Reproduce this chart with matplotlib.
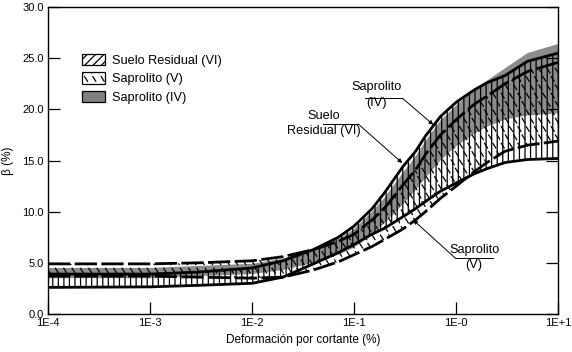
import warnings
import numpy as np
import matplotlib
matplotlib.use("Agg")
import matplotlib.pyplot as plt
import matplotlib.patches as mpatches
from matplotlib import hatch as mhatch
from matplotlib.path import Path

warnings.filterwarnings('ignore')
plt.rcParams['font.family'] = ['Liberation Sans', 'DejaVu Sans']
plt.rcParams['hatch.linewidth'] = 0.9


class DashHatch(mhatch.HatchPatternBase):
    # short backslash dashes, 'd' in the hatch string
    def __init__(self, hatch, density):
        self.n = int(hatch.count('d') * density)
        self.num_vertices = 2 * self.n * self.n

    def set_vertices_and_codes(self, vertices, codes):
        step = 1.0 / self.n
        k = 0
        for i in range(self.n):
            for j in range(self.n):
                x0 = (i + 0.15 + 0.5 * (j % 2)) * step
                y0 = (j + 0.8) * step
                vertices[k] = (x0, y0)
                vertices[k + 1] = (x0 + 0.35 * step, y0 - 0.55 * step)
                codes[k] = Path.MOVETO
                codes[k + 1] = Path.LINETO
                k += 2


mhatch._hatch_types.append(DashHatch)

# strain (%) positions where the bands were read
strain = [1e-4, 1e-3, 3e-3, 1e-2, 0.02, 0.04, 0.07, 0.1, 0.15, 0.2, 0.3, 0.4, 0.5,
          0.7, 1.0, 1.5, 2.0, 3.0, 5.0, 10.0]

# Suelo Residual (VI) - solid bounds
vi_upper = [3.9, 3.9, 4.1, 4.5, 5.2, 6.3, 7.5, 8.6, 10.3, 11.9, 14.4, 15.9, 17.4,
            19.3, 20.7, 21.9, 22.6, 23.3, 24.7, 25.5]
vi_lower = [2.6, 2.65, 2.8, 3.0, 3.6, 4.9, 6.0, 6.8, 7.8, 8.4, 9.5, 10.3, 11.0,
            12.0, 12.8, 13.7, 14.2, 14.8, 15.1, 15.2]

# Saprolito (V) - dashed bounds
v_upper = [4.9, 4.9, 5.0, 5.2, 5.6, 6.3, 7.1, 7.8, 9.2, 10.4, 12.6, 14.1, 15.6,
           17.5, 19.0, 20.5, 21.3, 22.5, 23.7, 24.6]
v_lower = [3.7, 3.7, 3.6, 3.5, 3.6, 4.3, 5.1, 5.8, 6.6, 7.3, 8.3, 9.2, 10.0,
           11.3, 12.5, 13.9, 14.8, 15.9, 16.5, 16.9]

# Saprolito (IV) - grey band
iv_upper = [4.5, 4.5, 4.7, 4.9, 5.4, 6.3, 7.3, 8.3, 10.0, 11.4, 13.8, 15.4, 16.9,
            18.9, 20.4, 21.9, 22.8, 24.0, 25.5, 26.4]
iv_lower = [3.5, 3.5, 3.7, 3.9, 4.3, 5.0, 5.8, 6.5, 7.8, 8.9, 10.7, 12.1, 13.3,
            15.0, 16.4, 17.6, 18.3, 19.0, 19.4, 19.6]

xticks = [1e-4, 1e-3, 1e-2, 1e-1, 1e0, 1e1]
xticklabels = ['1E-4', '1E-3', '1E-2', '1E-1', '1E-0', '1E+1']
yticks = [0, 5, 10, 15, 20, 25, 30]
legend_labels = ['Suelo Residual (VI)', 'Saprolito (V)', 'Saprolito (IV)']

fig = plt.figure(figsize=(5.72, 3.52), dpi=100)
ax = fig.add_axes([0.084, 0.108, 0.892, 0.872])

grey = '#8c8c8c'
ax.fill_between(strain, iv_lower, iv_upper, facecolor=grey, edgecolor='none', zorder=1)
ax.fill_between(strain, v_lower, v_upper, facecolor='none', edgecolor='k',
                hatch='dd', linewidth=0, zorder=2)
ax.fill_between(strain, vi_lower, vi_upper, facecolor='none', edgecolor='k',
                hatch='|||', linewidth=0, zorder=3)

for yy in (vi_upper, vi_lower):
    ax.plot(strain, yy, color='k', lw=2.0, solid_capstyle='butt', zorder=5)
for yy in (v_upper, v_lower):
    ax.plot(strain, yy, color='k', lw=2.0, dashes=(8, 1.6), zorder=5)

ax.set_xscale('log')
ax.set_xlim(1e-4, 1e1)
ax.set_ylim(0, 30)
ax.set_xticks(xticks)
ax.set_xticklabels(xticklabels)
ax.set_yticks(yticks)
ax.set_yticklabels(['%.1f' % v for v in yticks])
ax.minorticks_off()
ax.tick_params(axis='both', direction='in', length=8.5, width=0.9, labelsize=8, pad=3)
ax.tick_params(axis='y', right=True)
for s in ax.spines.values():
    s.set_linewidth(1.0)

ax.set_xlabel('Deformación por cortante (%)', fontsize=8.5, labelpad=4)
ax.set_ylabel('β (%)', fontsize=8.5, labelpad=6)

# labels with underline and leader
fs = 9.2
notes = [
    ('Suelo\nResidual (VI)', (10**-1.294, 18.6), (10**-1.304, 10**-0.961, 18.57), (10**-0.529, 14.76), 'right'),
    ('Saprolito\n(IV)', (10**-0.784, 21.4), (10**-0.892, 10**-0.529, 21.1), (10**-0.225, 18.5), 'right'),
    ('Saprolito\n(V)', (10**0.177, 5.5), (10**-0.01, 10**0.363, 5.47), (10**-0.422, 9.19), 'left'),
]
for txt, pos, line, tip, side in notes:
    ax.text(pos[0], pos[1], txt, ha='center', va='center', fontsize=fs,
            linespacing=1.35, zorder=6)
    ax.plot([line[0], line[1]], [line[2], line[2]], color='k', lw=0.7, zorder=6)
    start = (line[1], line[2]) if side == 'right' else (line[0], line[2])
    ax.annotate('', xy=tip, xytext=start,
                arrowprops=dict(arrowstyle='-|>', color='k', lw=0.7,
                                mutation_scale=6, shrinkA=0, shrinkB=0), zorder=6)

handles = [
    mpatches.Patch(facecolor='white', edgecolor='k', hatch='////', lw=0.9),
    mpatches.Patch(facecolor='white', edgecolor='k', hatch='dd', lw=0.9),
    mpatches.Patch(facecolor='#808080', edgecolor='k', lw=0.9),
]
ax.legend(handles, legend_labels, loc='upper left', bbox_to_anchor=(0.066, 0.848),
          frameon=False, fontsize=fs, handlelength=1.85, handleheight=1.0,
          handletextpad=0.55, labelspacing=0.42, borderpad=0, borderaxespad=0)

fig.savefig('out.png', dpi=100)
